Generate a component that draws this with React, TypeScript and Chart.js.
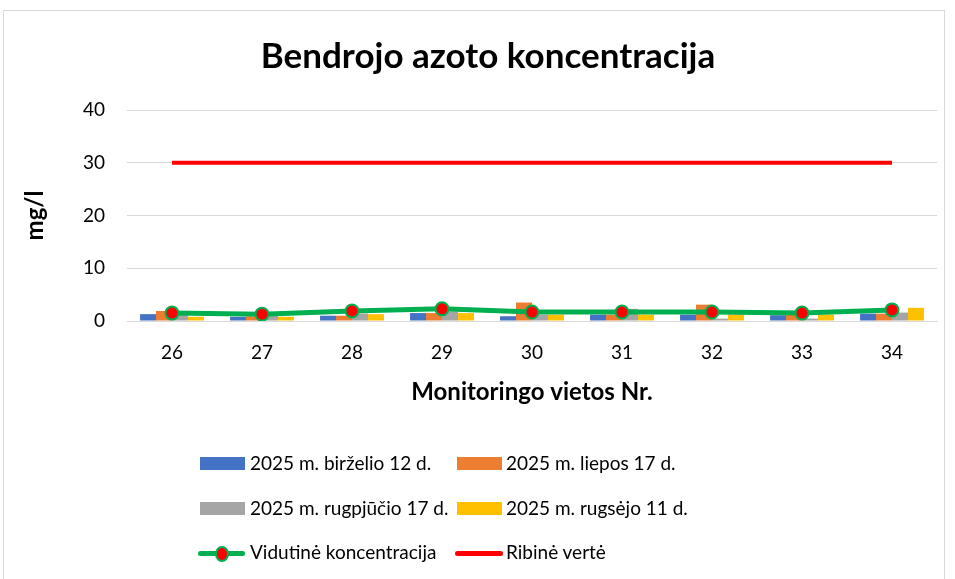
import React, { useEffect, useRef } from "react";
import { Chart, registerables } from "chart.js";

Chart.register(...registerables);

const categories = ["26", "27", "28", "29", "30", "31", "32", "33", "34"];
const birzelio = [1.3, 0.8, 1.0, 1.5, 0.9, 1.2, 1.2, 1.1, 1.4];
const liepos = [1.9, 0.9, 1.0, 1.5, 3.5, 1.2, 3.1, 1.2, 1.4];
const rugpjucio = [1.2, 1.2, 1.4, 1.8, 1.2, 2.3, 0.45, 0.45, 1.6];
const rugsejo = [0.8, 0.8, 1.3, 1.5, 1.2, 1.2, 1.2, 1.2, 2.5];
const vidutine = [1.5, 1.3, 1.9, 2.3, 1.7, 1.7, 1.7, 1.5, 2.1];
const ribine = [30, 30, 30, 30, 30, 30, 30, 30, 30];
const yMin = 0;
const yMax = 40;
const yStep = 10;

const titleText = "Bendrojo azoto koncentracija";
const xTitle = "Monitoringo vietos Nr.";
const yTitle = "mg/l";
const seriesNames = [
  "2025 m. birželio 12 d.",
  "2025 m. liepos 17 d.",
  "2025 m. rugpjūčio 17 d.",
  "2025 m. rugsėjo 11 d.",
  "Vidutinė koncentracija",
  "Ribinė vertė",
];
const colors = ["#4472c4", "#ed7d31", "#a5a5a5", "#ffc000", "#00b050", "#ff0000"];

const FONT = "Lato, 'Open Sans', sans-serif";

export default function App() {
  const ref = useRef<HTMLCanvasElement | null>(null);

  useEffect(() => {
    if (!ref.current) return;
    const barCommon = { type: "bar" as const, barPercentage: 1, categoryPercentage: 0.71 };
    const chart = new Chart(ref.current, {
      type: "bar",
      data: {
        labels: categories,
        datasets: [
          { ...barCommon, label: seriesNames[0], data: birzelio, backgroundColor: colors[0], order: 2 },
          { ...barCommon, label: seriesNames[1], data: liepos, backgroundColor: colors[1], order: 3 },
          { ...barCommon, label: seriesNames[2], data: rugpjucio, backgroundColor: colors[2], order: 4 },
          { ...barCommon, label: seriesNames[3], data: rugsejo, backgroundColor: colors[3], order: 5 },
          {
            type: "line",
            label: seriesNames[4],
            data: vidutine,
            borderColor: colors[4],
            borderWidth: 5,
            pointRadius: 6.5,
            pointBackgroundColor: "#ff0000",
            pointBorderColor: colors[4],
            pointBorderWidth: 2,
            order: 0,
          } as any,
          {
            type: "line",
            label: seriesNames[5],
            data: ribine,
            borderColor: colors[5],
            borderWidth: 4,
            pointRadius: 0,
            order: 1,
          } as any,
        ],
      },
      options: {
        animation: false,
        responsive: false,
        maintainAspectRatio: false,
        layout: { padding: { left: 0, right: 18, top: 110, bottom: 172.6 } },
        plugins: {
          legend: { display: false },
          tooltip: { enabled: false },
          title: { display: false },
        },
        scales: {
          x: {
            grid: { display: false, drawTicks: false },
            border: { display: true, color: "#d9d9d9", width: 1 },
            ticks: { color: "#000000", font: { family: FONT, size: 19 }, padding: 20 },
            title: {
              display: true,
              text: xTitle,
              color: "#000000",
              font: { family: FONT, size: 24, weight: "bold" },
              padding: { top: -6.2, bottom: 0 },
            },
          },
          y: {
            min: yMin,
            max: yMax,
            afterFit: (s: any) => {
              s.width = 127;
            },
            grid: { color: "#d9d9d9", drawTicks: false },
            border: { display: false },
            ticks: {
              stepSize: yStep,
              color: "#000000",
              font: { family: FONT, size: 19 },
              padding: 22,
            },
            title: {
              display: true,
              text: yTitle,
              color: "#000000",
              font: { family: FONT, size: 24, weight: "bold" },
              padding: { top: 20.6, bottom: 0 },
            },
          },
        },
      },
    });
    return () => chart.destroy();
  }, []);

  const textStyle: React.CSSProperties = {
    position: "absolute",
    fontFamily: FONT,
    fontSize: 19,
    color: "#000",
    whiteSpace: "nowrap",
    lineHeight: "22px",
  };

  const box = (x: number, y: number, c: string) => (
    <div style={{ position: "absolute", left: x, top: y - 6.5, width: 45, height: 13, background: c }} />
  );
  const label = (x: number, y: number, t: string) => (
    <div style={{ ...textStyle, left: x, top: y - 11 }}>{t}</div>
  );

  return (
    <div style={{ position: "absolute", left: 0, top: 0, width: 955, height: 579, background: "#fff", overflow: "hidden" }}>
      <div
        style={{
          position: "absolute",
          left: 3,
          top: 10,
          width: 942,
          height: 620,
          border: "1px solid #d9d9d9",
          boxSizing: "border-box",
        }}
      />
      <canvas ref={ref} width={955} height={579} style={{ position: "absolute", left: 0, top: 0 }} />
      <div
        style={{
          position: "absolute",
          left: 0,
          top: 33,
          width: 976,
          textAlign: "center",
          fontFamily: FONT,
          fontWeight: "bold",
          fontSize: 35,
          lineHeight: "42px",
          color: "#000",
          whiteSpace: "nowrap",
        }}
      >
        {titleText}
      </div>
      {box(200, 463, colors[0])}
      {label(250, 463, seriesNames[0])}
      {box(457, 463, colors[1])}
      {label(506, 463, seriesNames[1])}
      {box(200, 508, colors[2])}
      {label(250, 508, seriesNames[2])}
      {box(457, 508, colors[3])}
      {label(506, 508, seriesNames[3])}
      <div style={{ position: "absolute", left: 198, top: 550.5, width: 47, height: 5, borderRadius: 3, background: colors[4] }} />
      <div
        style={{
          position: "absolute",
          left: 215,
          top: 546,
          width: 10,
          height: 12,
          borderRadius: "50%",
          background: "#ff0000",
          border: `2px solid ${colors[4]}`,
        }}
      />
      {label(250, 552, seriesNames[4])}
      <div style={{ position: "absolute", left: 455, top: 550.5, width: 48, height: 5, borderRadius: 3, background: colors[5] }} />
      {label(506, 552, seriesNames[5])}
    </div>
  );
}
